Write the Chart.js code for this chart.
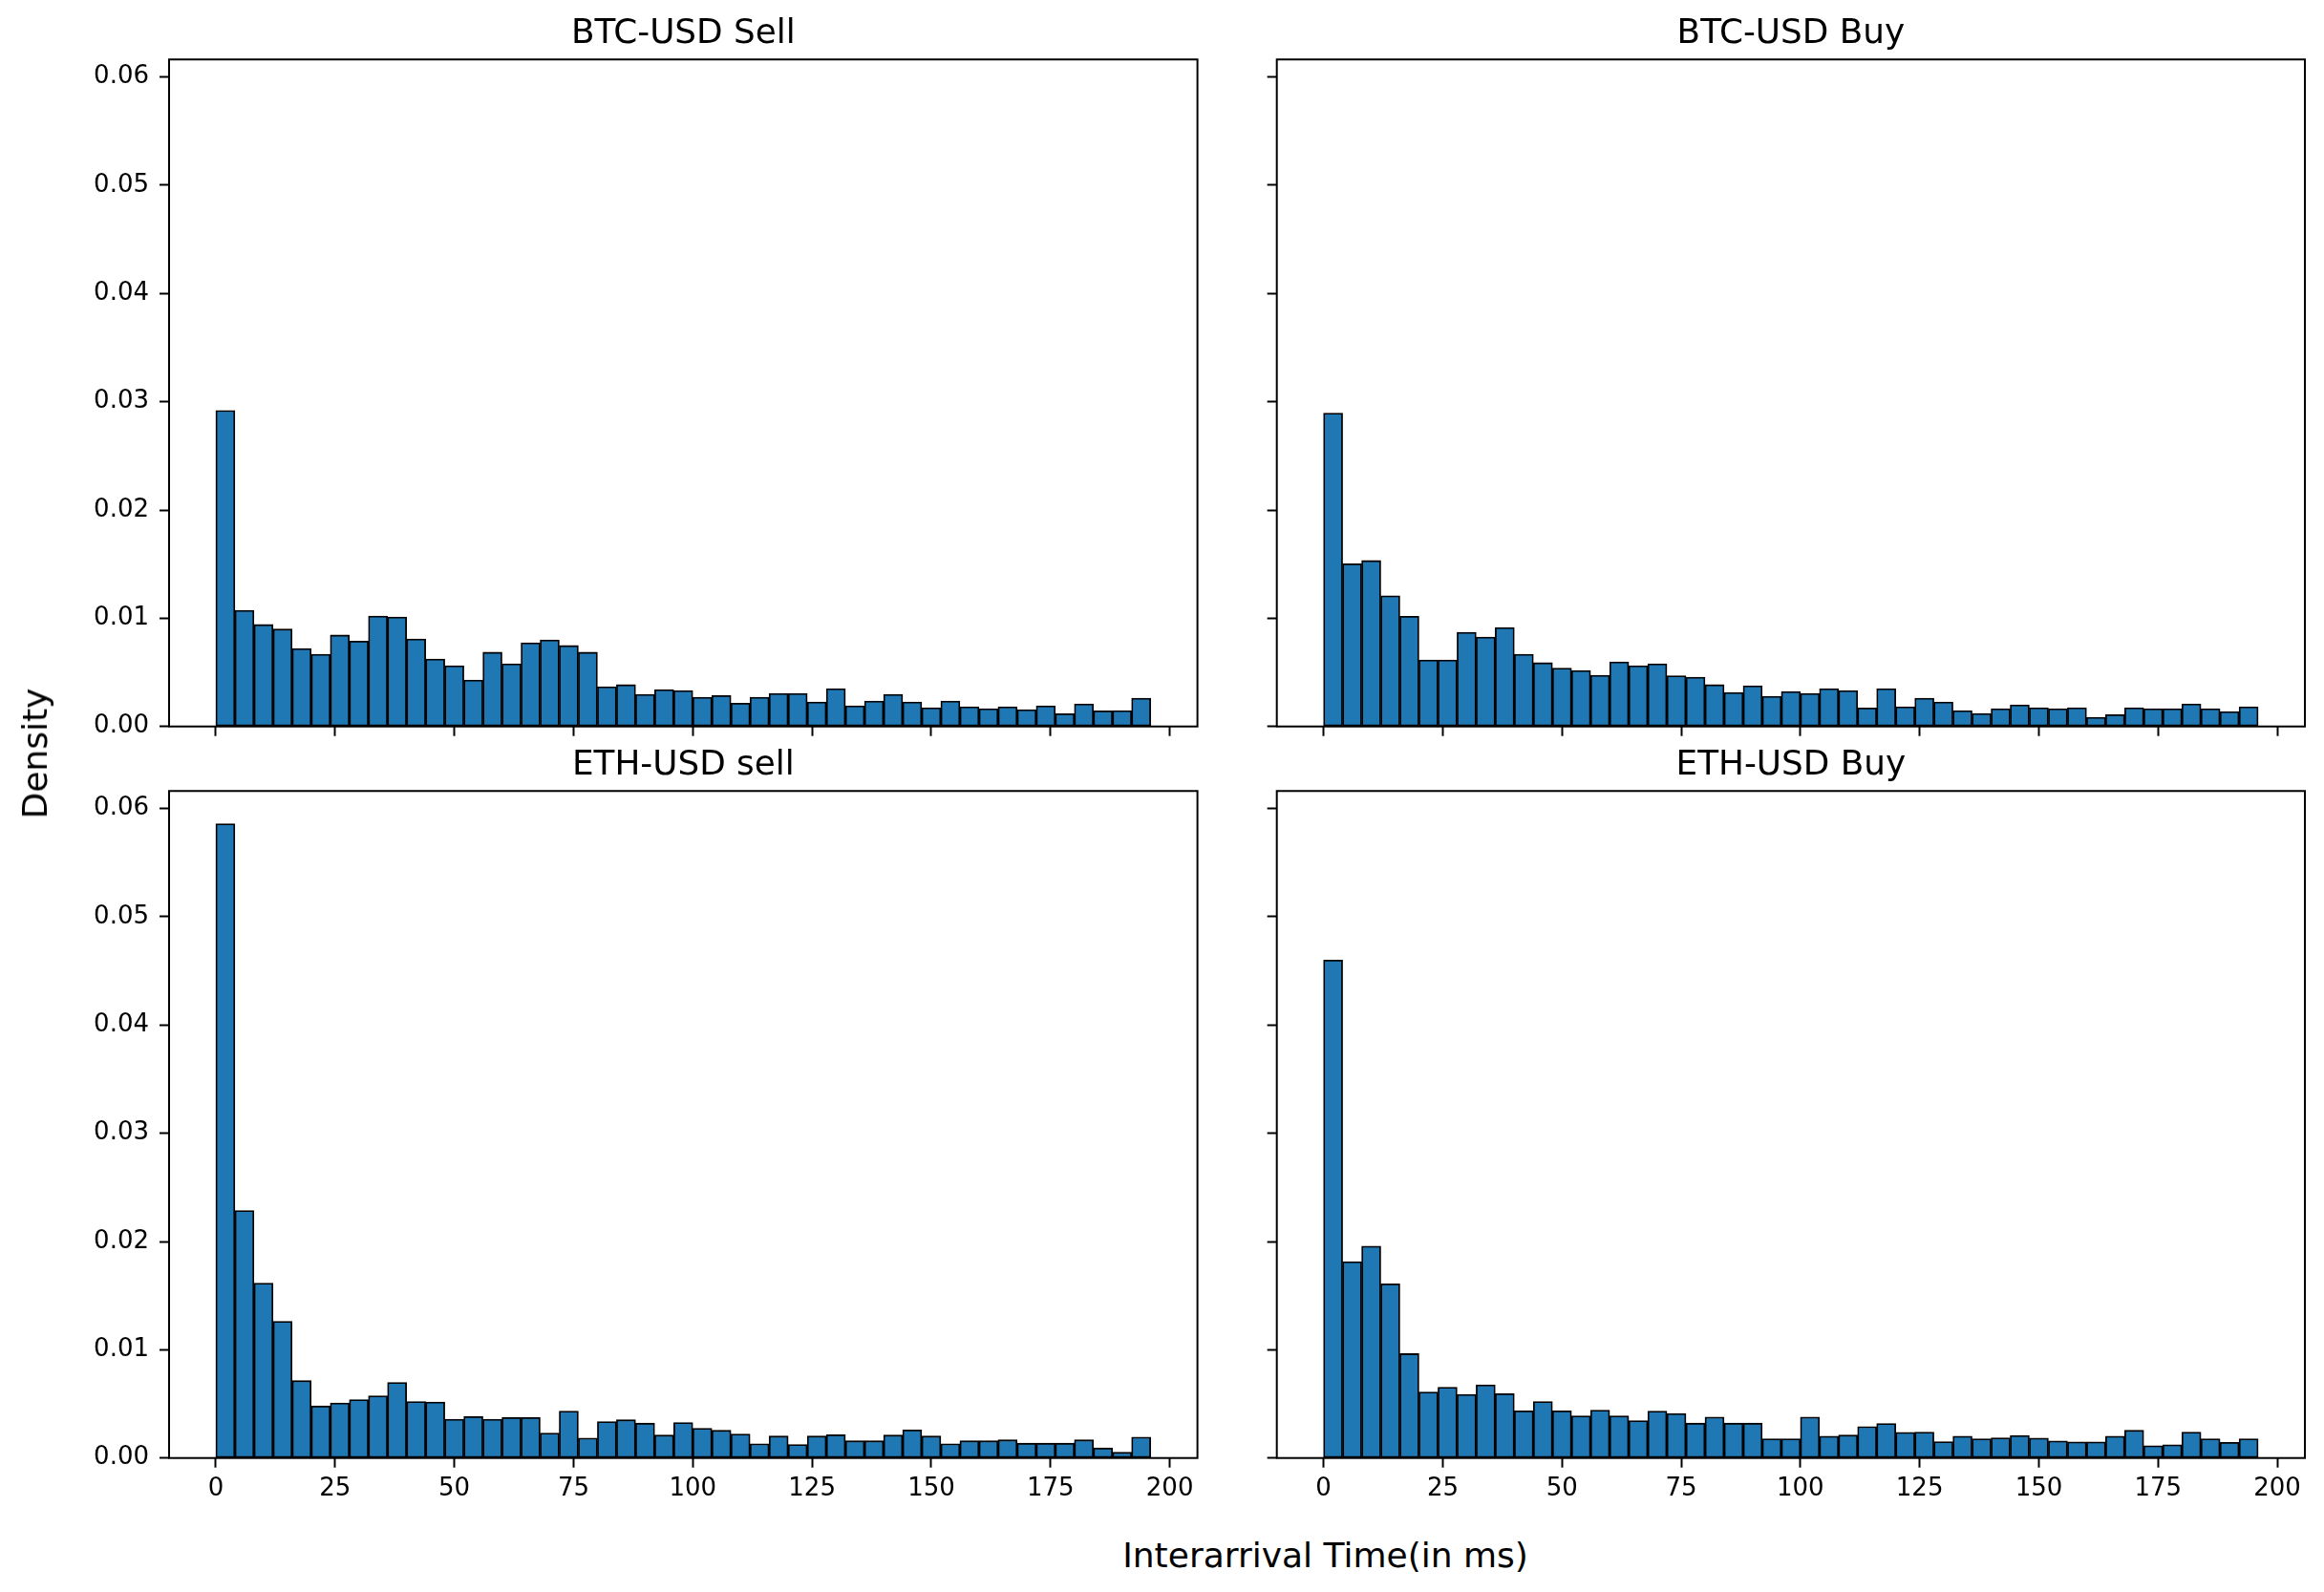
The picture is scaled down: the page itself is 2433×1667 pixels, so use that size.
<!DOCTYPE html>
<html>
<head>
<meta charset="utf-8">
<script src="https://cdn.jsdelivr.net/npm/chart.js@4/dist/chart.umd.min.js"></script>
<style>
  html, body { margin: 0; padding: 0; background: #fff; }
  body { width: 2433px; height: 1667px; position: relative; overflow: hidden; }
  .panel { position: absolute; }
  .lbl { position: absolute; font-family: 'DejaVu Sans'; font-size: 36px; line-height: 1; color: #000; white-space: nowrap; }
</style>
</head>
<body>
<div class="panel" style="left:0px;top:0px;width:1266px;height:801px"><canvas id="c0"></canvas></div>
<div class="panel" style="left:1280px;top:0px;width:1145px;height:801px"><canvas id="c1"></canvas></div>
<div class="panel" style="left:0px;top:770px;width:1266px;height:827px"><canvas id="c2"></canvas></div>
<div class="panel" style="left:1280px;top:770px;width:1145px;height:827px"><canvas id="c3"></canvas></div>
<div class="lbl" style="left:1387.5px;top:1610.5px;transform:translateX(-50%)">Interarrival Time(in ms)</div>
<div class="lbl" style="left:36.8px;top:789px;transform:translate(-50%,-50%) rotate(-90deg)">Density</div>
<script>
// ---- data ----
const binCenters = [2, 6, 10, 14, 18, 22, 26, 30, 34, 38, 42, 46, 50, 54, 58, 62, 66, 70, 74, 78,
  82, 86, 90, 94, 98, 102, 106, 110, 114, 118, 122, 126, 130, 134, 138, 142, 146, 150, 154, 158,
  162, 166, 170, 174, 178, 182, 186, 190, 194];

const panelTitles = ['BTC-USD Sell', 'BTC-USD Buy', 'ETH-USD sell', 'ETH-USD Buy'];

const btcSell = [0.0292, 0.01074, 0.00942, 0.0090, 0.00721, 0.00668, 0.00845, 0.00789, 0.01021, 0.01012,
  0.00809, 0.00624, 0.00562, 0.0043, 0.00686, 0.0058, 0.00774, 0.008, 0.00748, 0.00686,
  0.00368, 0.00386, 0.00297, 0.00341, 0.00333, 0.00271, 0.00285, 0.00215, 0.00271, 0.00306,
  0.00306, 0.00227, 0.0035, 0.00191, 0.00235, 0.00297, 0.00227, 0.00174, 0.00235, 0.00182,
  0.00165, 0.00182, 0.00156, 0.00191, 0.00118, 0.00209, 0.00144, 0.00147, 0.00262];

const btcBuy = [0.02895, 0.01504, 0.01533, 0.01207, 0.01018, 0.00615, 0.00615, 0.00871, 0.00827, 0.00915,
  0.00668, 0.00589, 0.00539, 0.00518, 0.00474, 0.00597, 0.00562, 0.0058, 0.00468, 0.00456,
  0.00386, 0.00315, 0.00377, 0.0028, 0.00324, 0.00306, 0.0035, 0.00333, 0.00171, 0.0035,
  0.00182, 0.00262, 0.00227, 0.00147, 0.00121, 0.00165, 0.002, 0.00174, 0.00165, 0.00174,
  0.00085, 0.00109, 0.00174, 0.00165, 0.00165, 0.00209, 0.00165, 0.00138, 0.00182];

const ethSell = [0.0586, 0.02287, 0.01616, 0.01263, 0.00715, 0.00481, 0.00508, 0.00539, 0.00574, 0.00698,
  0.00521, 0.00517, 0.00358, 0.00384, 0.00358, 0.00375, 0.00375, 0.0023, 0.00433, 0.00185,
  0.00336, 0.00353, 0.00322, 0.00212, 0.00327, 0.00274, 0.00256, 0.00221, 0.00132, 0.00203,
  0.00124, 0.00203, 0.00216, 0.00159, 0.00159, 0.00212, 0.0026, 0.00203, 0.00132, 0.00159,
  0.00159, 0.00168, 0.00137, 0.00137, 0.00137, 0.00168, 0.00093, 0.00053, 0.00194];

const ethBuy = [0.046, 0.01815, 0.01957, 0.01609, 0.00964, 0.0061, 0.00654, 0.00588, 0.00677, 0.00594,
  0.00436, 0.00522, 0.00436, 0.00389, 0.00443, 0.00389, 0.00345, 0.00433, 0.00411, 0.00322,
  0.00379, 0.00322, 0.00322, 0.00177, 0.00177, 0.00379, 0.00202, 0.00212, 0.00291, 0.00319,
  0.00237, 0.0024, 0.00152, 0.00202, 0.00177, 0.00187, 0.00209, 0.00184, 0.00158, 0.00149,
  0.00149, 0.00202, 0.00256, 0.00114, 0.00123, 0.0024, 0.00177, 0.00145, 0.00177];

const xTickValues = [0, 25, 50, 75, 100, 125, 150, 175, 200];
const yTickValues = [0, 0.01, 0.02, 0.03, 0.04, 0.05, 0.06];
const xMin = -9.8, xMax = 205.8;
const yMax = 0.06162;

// ---- rendering ----
Chart.defaults.font.family = "'DejaVu Sans'";
Chart.defaults.color = '#000';

const framePlugin = {
  id: 'frame',
  afterDatasetsDraw(chart) {
    const { ctx, chartArea: a } = chart;
    ctx.save();
    ctx.strokeStyle = '#000';
    ctx.lineWidth = 2;
    ctx.strokeRect(a.left, a.top, a.right - a.left, a.bottom - a.top);
    ctx.restore();
  }
};

function makePanel(canvasId, title, values, o) {
  return new Chart(document.getElementById(canvasId), {
    type: 'bar',
    data: {
      datasets: [{
        data: binCenters.map((x, i) => ({ x: x, y: values[i] })),
        backgroundColor: '#1f77b4',
        borderColor: '#000000',
        borderWidth: 1.8,
        borderSkipped: false,
        barPercentage: 1,
        categoryPercentage: 1
      }]
    },
    options: {
      responsive: true,
      maintainAspectRatio: false,
      animation: false,
      events: [],
      layout: { padding: { left: 0, right: o.padRight, top: 0, bottom: 0 } },
      plugins: {
        legend: { display: false },
        tooltip: { enabled: false },
        title: {
          display: true,
          text: title,
          fullSize: false,
          color: '#000',
          font: { family: "'DejaVu Sans'", size: 35.8, weight: 'normal', lineHeight: 1.2 },
          padding: { top: o.titleTop, bottom: o.titleBottom }
        }
      },
      scales: {
        x: {
          type: 'linear',
          min: xMin,
          max: xMax,
          offset: false,
          afterBuildTicks: s => { s.ticks = xTickValues.map(v => ({ value: v })); },
          afterFit: s => { s.height = o.xHeight; },
          ticks: {
            autoSkip: false, maxRotation: 0, minRotation: 0, padding: 7,
            color: '#000', font: { size: 26, family: "'DejaVu Sans'" },
            callback: v => o.showX ? String(v) : ''
          },
          grid: { display: true, drawOnChartArea: false, drawTicks: true, tickLength: 10, tickWidth: 2, tickColor: '#000', offset: false },
          border: { display: false }
        },
        y: {
          type: 'linear',
          min: 0,
          max: yMax,
          afterBuildTicks: s => { s.ticks = yTickValues.map(v => ({ value: v })); },
          afterFit: s => { s.width = o.yWidth; },
          ticks: {
            padding: 11, color: '#000', font: { size: 26, family: "'DejaVu Sans'" },
            callback: v => o.showY ? Number(v).toFixed(2) : ''
          },
          grid: { display: true, drawOnChartArea: false, drawTicks: true, tickLength: 10, tickWidth: 2, tickColor: '#000' },
          border: { display: false }
        }
      }
    },
    plugins: [framePlugin]
  });
}

// title block = titleTop + 1.2*35.8 + titleBottom
makePanel('c0', panelTitles[0], btcSell, { padRight: 12.4, yWidth: 177, xHeight: 40.3, titleTop: 14.3, titleBottom: 5.0, showX: false, showY: true });
makePanel('c1', panelTitles[1], btcBuy,  { padRight: 12,   yWidth: 56.7, xHeight: 40.3, titleTop: 14.3, titleBottom: 5.0, showX: false, showY: false });
makePanel('c2', panelTitles[2], ethSell, { padRight: 12.4, yWidth: 177, xHeight: 70.3, titleTop: 10.3, titleBottom: 5.0, showX: true, showY: true });
makePanel('c3', panelTitles[3], ethBuy,  { padRight: 12,   yWidth: 56.7, xHeight: 70.3, titleTop: 10.3, titleBottom: 5.0, showX: true, showY: false });
</script>
</body>
</html>
